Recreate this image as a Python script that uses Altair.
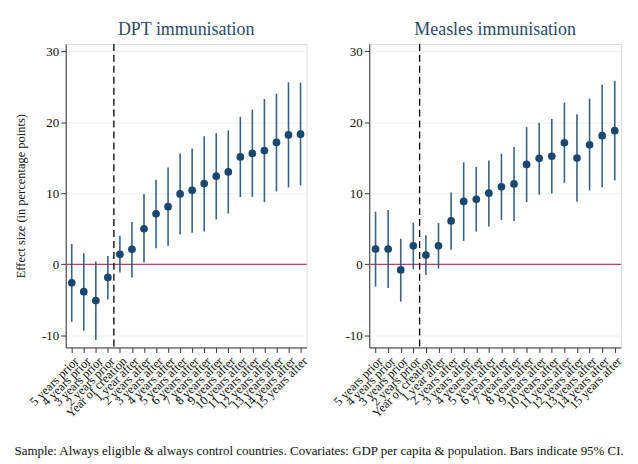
import altair as alt
import pandas as pd

labels = ["5 years prior", "4 years prior", "3 years prior", "2 years prior",
          "Year of creation", "1 year after", "2 years after", "3 years after",
          "4 years after", "5 years after", "6 years after", "7 years after",
          "8 years after", "9 years after", "10 years after", "11 years after",
          "12 years after", "13 years after", "14 years after", "15 years after"]

dpt_est = [-2.6, -3.85, -5.1, -1.85, 1.4, 2.1, 5.0, 7.1, 8.1, 9.9, 10.4, 11.35,
           12.4, 13.0, 15.1, 15.6, 16.0, 17.15, 18.2, 18.3]
dpt_lo = [-8.1, -9.35, -10.65, -4.95, -1.15, -1.85, 0.25, 2.25, 2.6, 4.2, 4.45,
          4.6, 6.3, 7.15, 9.45, 9.5, 8.75, 10.25, 10.8, 11.1]
dpt_hi = [2.85, 1.55, 0.4, 1.15, 4.0, 5.95, 9.9, 11.9, 13.6, 15.6, 16.3, 18.0,
          18.45, 18.85, 20.75, 21.75, 23.25, 24.0, 25.6, 25.55]

mea_est = [2.15, 2.15, -0.8, 2.6, 1.3, 2.6, 6.1, 8.85, 9.15, 10.0, 10.9, 11.3,
           14.05, 14.9, 15.2, 17.1, 14.95, 16.8, 18.1, 18.8]
mea_lo = [-3.15, -3.35, -5.25, -0.7, -1.5, -0.6, 2.05, 3.3, 4.6, 5.3, 6.25, 6.1,
          8.75, 9.8, 9.95, 11.45, 8.8, 10.4, 10.85, 11.8]
mea_hi = [7.4, 7.65, 3.6, 5.85, 4.1, 5.8, 10.1, 14.35, 13.7, 14.6, 15.55, 16.5,
          19.3, 19.9, 20.45, 22.75, 21.1, 23.3, 25.25, 25.8]

y_ticks = [-10, 0, 10, 20, 30]
event_line = [3.5]   # between "2 years prior" and "Year of creation"
zero_line = [0]

SERIF = "Liberation Serif"
NAVY = "#1a476f"
label_expr = "[" + ",".join("'" + l + "'" for l in labels) + "][datum.value]"


def panel(title, est, lo, hi, width, show_title):
    df = pd.DataFrame({"idx": list(range(len(labels))), "label": labels,
                       "est": est, "lo": lo, "hi": hi})
    xs = alt.Scale(domain=[-0.5, len(labels) - 0.5], nice=False, zero=False)
    ys = alt.Scale(domain=[-11.7, 31], nice=False, zero=False)
    x_axis = alt.Axis(values=list(range(len(labels))), labelExpr=label_expr,
                      labelAngle=-45, labelAlign="right", labelBaseline="top",
                      labelFont=SERIF, labelFontSize=12.5, labelColor="#111",
                      labelPadding=2, tickSize=5, tickColor="#333",
                      domainColor="#333", grid=False, title=None,
                      labelOverlap=False, labelFlush=False)
    y_axis = alt.Axis(values=y_ticks, labelExpr="'' + datum.value",
                      labelFont=SERIF, labelFontSize=13, labelColor="#111",
                      tickSize=5, tickColor="#333", domainColor="#333",
                      grid=True, gridColor="#eaf2f3", labelPadding=2,
                      labelOverlap=False,
                      title="Effect size (in percentage points)" if show_title else None,
                      titleFont=SERIF, titleFontSize=12.5, titleFontWeight="normal",
                      titleColor="#111", titlePadding=14)
    X = alt.X("idx:Q", scale=xs, axis=x_axis)
    base = alt.Chart(df)
    bars = base.mark_rule(color=NAVY, strokeWidth=1.6, opacity=0.85).encode(
        x=X, y=alt.Y("lo:Q", scale=ys, axis=y_axis), y2="hi:Q")
    pts = base.mark_circle(color=NAVY, size=60, opacity=1).encode(
        x=X, y=alt.Y("est:Q", scale=ys, axis=y_axis))
    zero = alt.Chart(pd.DataFrame({"z": zero_line})).mark_rule(
        color="#c83c6c", strokeWidth=1.3).encode(
        y=alt.Y("z:Q", scale=ys, axis=y_axis))
    vline = alt.Chart(pd.DataFrame({"v": event_line})).mark_rule(
        color="#000", strokeWidth=1.3, strokeDash=[7, 4]).encode(
        x=alt.X("v:Q", scale=xs, axis=x_axis))
    return alt.layer(zero, bars, pts, vline).properties(
        width=width, height=305,
        title=alt.TitleParams(title, font=SERIF, fontSize=18, fontWeight="normal",
                              color="#2c4a6a", anchor="middle", offset=4))


left = panel("DPT immunisation", dpt_est, dpt_lo, dpt_hi, 242, True)
right = panel("Measles immunisation", mea_est, mea_lo, mea_hi, 253, False)

chart = alt.hconcat(left, right, spacing=20).properties(
    padding={"top": 11, "left": 5, "right": 5, "bottom": 5},
    title=alt.TitleParams(
        "Sample: Always eligible & always control countries. Covariates: GDP per capita & population. Bars indicate 95% CI.",
        orient="bottom", anchor="middle", font=SERIF, fontSize=13,
        fontWeight="normal", color="#111", offset=25)
).configure_view(stroke=None).configure(background="white")

chart.save("out.html", embed_options={"renderer": "svg", "actions": False})
